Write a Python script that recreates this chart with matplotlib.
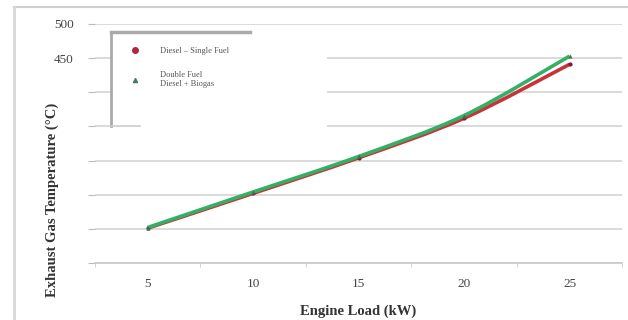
import matplotlib.pyplot as plt
from matplotlib.lines import Line2D
from matplotlib.patches import Rectangle, PathPatch
from matplotlib.path import Path

# dados
carga = [5, 10, 15, 20, 25]
temp_diesel = [201, 252, 304, 362, 441]
temp_biogas = [202, 254, 306, 366, 453]
y_ticks = [150, 200, 250, 300, 350, 400, 450, 500]
y_labels = ['', '', '', '', '', '', '450', '500']
nome_diesel = 'Diesel – Single Fuel'
nome_biogas = 'Double Fuel\nDiesel + Biogas'

serif = ['Liberation Serif', 'DejaVu Serif']


# linha suavizada (como no Excel): bezier passando pelos pontos
def curva_suave(xs, ys):
    verts = [(xs[0], ys[0])]
    codes = [Path.MOVETO]
    n = len(xs)
    for i in range(n - 1):
        x0, y0 = xs[max(i - 1, 0)], ys[max(i - 1, 0)]
        x1, y1 = xs[i], ys[i]
        x2, y2 = xs[i + 1], ys[i + 1]
        x3, y3 = xs[min(i + 2, n - 1)], ys[min(i + 2, n - 1)]
        c1 = (x1 + (x2 - x0) / 6, y1 + (y2 - y0) / 6)
        c2 = (x2 - (x3 - x1) / 6, y2 - (y3 - y1) / 6)
        verts += [c1, c2, (x2, y2)]
        codes += [Path.CURVE4] * 3
    return Path(verts, codes)


fig = plt.figure(figsize=(6.28, 3.2), dpi=100)
ax = fig.add_axes([0.151, 0.178, 0.840, 0.747])

ax.add_patch(PathPatch(curva_suave(carga, temp_diesel), facecolor='none',
                       edgecolor='#c8323a', lw=2.6, zorder=3))
ax.add_patch(PathPatch(curva_suave(carga, temp_biogas), facecolor='none',
                       edgecolor='#33b065', lw=2.6, zorder=4))
ax.plot(carga, temp_diesel, ls='none', marker='o', ms=3,
        markerfacecolor='#7a1f2a', markeredgewidth=0, zorder=3.5)
ax.plot(carga, temp_biogas, ls='none', marker='^', ms=3,
        markerfacecolor='#3f6f55', markeredgewidth=0, zorder=4.5)

ax.set_xlim(2.5, 27.5)
ax.set_ylim(150, 500)
ax.set_xticks(carga)
ax.set_xticks([2.5, 7.5, 12.5, 17.5, 22.5, 27.5], minor=True)
ax.set_yticks(y_ticks)
ax.set_yticklabels(y_labels)
ax.grid(axis='y', color='#d4d4d4', lw=1.2, zorder=0)
ax.set_axisbelow(True)

for s in ['top', 'right', 'left']:
    ax.spines[s].set_visible(False)
ax.spines['bottom'].set_color('#c8c8c8')
ax.spines['bottom'].set_linewidth(1.2)

ax.tick_params(axis='x', which='major', length=0, pad=11, labelsize=9.5,
               labelcolor='#444444')
ax.tick_params(axis='x', which='minor', length=3, color='#cccccc')
ax.tick_params(axis='y', length=5, color='#bbbbbb', pad=10, labelsize=9.5,
               labelcolor='#444444')
for lb in ax.get_xticklabels() + ax.get_yticklabels():
    lb.set_family(serif)

ax.set_xlabel('Engine Load (kW)', fontsize=10.5, fontweight='bold',
              family=serif, color='#333333', labelpad=10)

fig.text(0.083, 0.375, 'Exhaust Gas Temperature (°C)', rotation=90,
         ha='center', va='center', fontsize=10.5, fontweight='bold',
         family=serif, color='#333333')

# caixa da legenda
ax.add_patch(Rectangle((0.030, 0.565), 0.41, 0.40, transform=ax.transAxes,
                       facecolor='white', edgecolor='none', zorder=5))
ax.add_line(Line2D([0.030, 0.030], [0.575, 0.965], transform=ax.transAxes,
                   color='#aaaaaa', lw=2, zorder=6))
ax.add_line(Line2D([0.030, 0.295], [0.965, 0.965], transform=ax.transAxes,
                   color='#aaaaaa', lw=2.5, zorder=6))
ax.add_line(Line2D([0.030, 0.085], [0.575, 0.575], transform=ax.transAxes,
                   color='#cccccc', lw=1.2, zorder=6))

h1 = Line2D([], [], color='#b02540', marker='o', ls='none', ms=4)
h2 = Line2D([], [], color='#4a7a60', marker='^', ls='none', ms=3)
leg = ax.legend([h1, h2], [nome_diesel, nome_biogas], loc='upper left',
                bbox_to_anchor=(0.05, 0.93), frameon=False, fontsize=6,
                labelspacing=2.0, handletextpad=2.0, borderpad=0.2)
leg.set_zorder(7)
for t in leg.get_texts():
    t.set_color('#555555')
    t.set_family(serif)

# moldura externa
fig.add_artist(Line2D([0.022, 1.0], [0.978, 0.978], color='#d0d0d0', lw=1.5))
fig.add_artist(Line2D([0.022, 0.022], [0.0, 0.978], color='#d8d8d8', lw=2))

plt.savefig('out.png', dpi=100)
